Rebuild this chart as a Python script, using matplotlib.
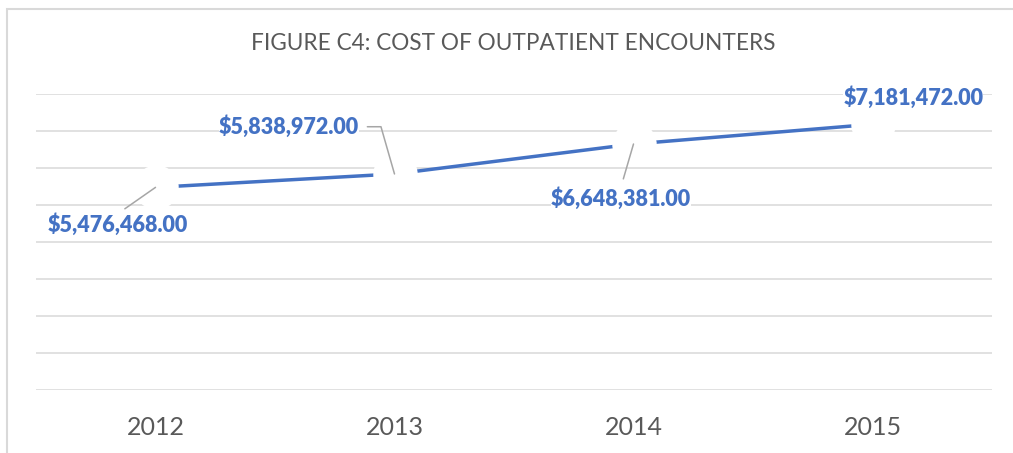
import matplotlib
matplotlib.use("Agg")
import matplotlib.pyplot as plt
from matplotlib.patches import Rectangle

# data
years = ["2012", "2013", "2014", "2015"]
costs = [5476468.00, 5838972.00, 6648381.00, 7181472.00]
labels = ["$5,476,468.00", "$5,838,972.00", "$6,648,381.00", "$7,181,472.00"]

BLUE = "#4472C4"
GRAY_TXT = "#595959"
GRID = "#D9D9D9"
LEADER = "#A6A6A6"

plt.rcParams["font.family"] = ["Lato", "DejaVu Sans"]

W, H = 1013, 453
fig = plt.figure(figsize=(W / 100, H / 100), dpi=100)
ax = fig.add_axes([36 / W, 1 - 390 / H, (992 - 36) / W, (390 - 94) / H])

x = list(range(len(years)))
ax.plot(x, costs, color=BLUE, lw=2.5, zorder=2)
# white blobs around each point, like the cleared spots in the original
ax.plot(x, costs, ls="none", marker="o", ms=32, mfc="white", mec="none", zorder=3)

ax.set_xlim(-0.5, 3.5)
ax.set_ylim(0, 8e6)
ax.set_yticks([i * 1e6 for i in range(9)])
ax.set_yticklabels([])
ax.set_xticks(x)
ax.set_xticklabels(years, fontsize=18, color=GRAY_TXT)
ax.tick_params(length=0, pad=19)
ax.grid(axis="y", color=GRID, lw=1.1, zorder=0)
ax.set_axisbelow(True)
for s in ax.spines.values():
    s.set_visible(False)

# label offsets (points) and leader styles
offsets = [(-27, -27), (-76, 34), (-9, -39), (29.5, 19)]
relpos = [(0.5, 1), (1, 0.5), (0.5, 1), (0.5, 0.5)]
conn = ["arc3", "angle,angleA=0,angleB=106,rad=0", "arc3", "arc3"]
for i in x:
    ap = None
    if i < 3:
        ap = dict(arrowstyle="-", color=LEADER, lw=1.1, shrinkA=6, shrinkB=0,
                  relpos=relpos[i], connectionstyle=conn[i])
    ax.annotate(labels[i], (i, costs[i]), xytext=offsets[i], textcoords="offset points",
                ha="center", va="center", fontsize=15.5, fontweight="heavy", color=BLUE,
                bbox=dict(fc="white", ec="none", pad=0), arrowprops=ap, zorder=4)

fig.text(513 / W, 1 - 44 / H, "FIGURE C4: COST OF OUTPATIENT ENCOUNTERS",
         ha="center", va="center", fontsize=16.3, color=GRAY_TXT)

fig.add_artist(Rectangle((7 / W, -0.05), 1.2, (H - 9) / H + 0.05, transform=fig.transFigure,
                         fc="none", ec=GRID, lw=1.5, clip_on=False))

fig.savefig("out.png", dpi=100)
